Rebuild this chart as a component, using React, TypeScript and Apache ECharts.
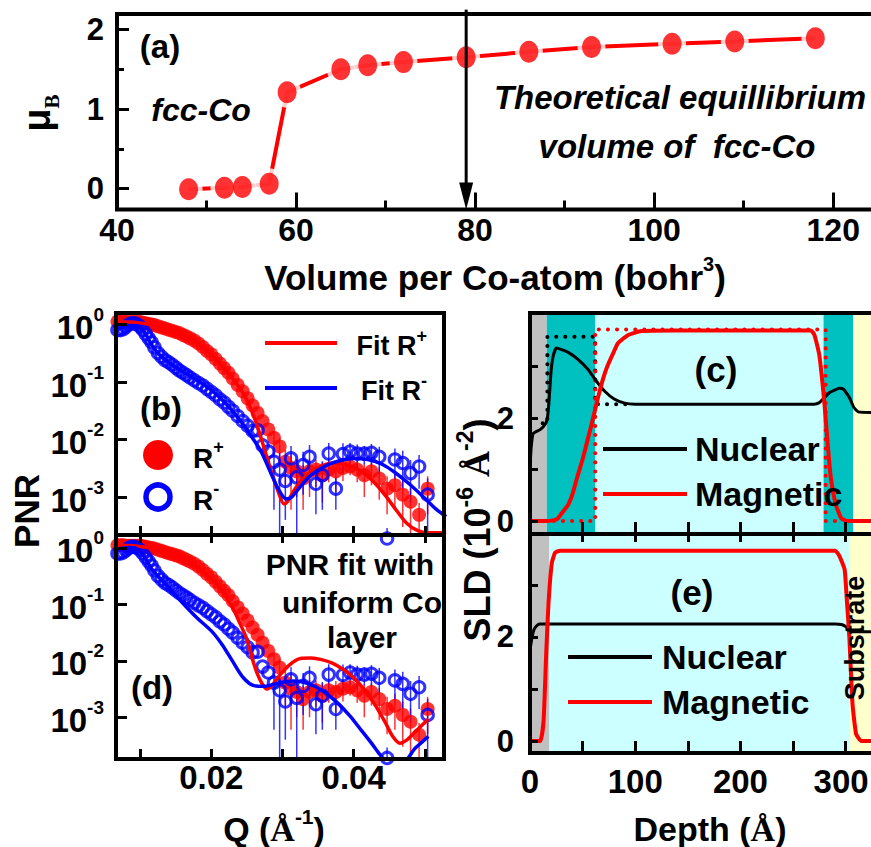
import React, { useEffect, useRef } from 'react';
import * as echarts from 'echarts';

const F = '"Liberation Sans", Arial, Helvetica, sans-serif';
const SERIF = '"Liberation Serif", "Times New Roman", serif';
const RED = '#ff0000';
const BLUE = '#0000ff';

// ---------- Panel (a): moment vs volume ----------
const volume = [48, 52, 54, 57, 59, 65, 68, 72, 79, 86, 93, 102, 109, 118];
const moment = [-0.01, 0.01, 0.02, 0.06, 1.21, 1.5, 1.55, 1.59, 1.65, 1.72, 1.78, 1.82, 1.85, 1.89];
const eqVolume = 79;
const arrowSpan = [2.25, -0.264];
const volTicks = [40, 60, 80, 100, 120];
const volMinorTicks = [50, 70, 90, 110];
const momentTicks = [0, 1, 2];
const momentMinorTicks = [0.5, 1.5];

// ---------- Panels (b),(d): PNR data (shared) ----------
const qData = [
  0.0068, 0.0072, 0.0076, 0.008, 0.0084, 0.0088, 0.0092, 0.0096, 0.01, 0.0104,
  0.0108, 0.0112, 0.0116, 0.012, 0.0125, 0.013, 0.0135, 0.014, 0.0145, 0.015,
  0.0155, 0.016, 0.0165, 0.017, 0.0176, 0.0182, 0.0188, 0.0194, 0.02, 0.0206,
  0.0212, 0.0218, 0.0224, 0.023, 0.0237, 0.0244, 0.0251, 0.0258, 0.0265, 0.0272,
  0.028, 0.0288, 0.0296, 0.0304, 0.0312, 0.032, 0.0329, 0.0338, 0.0347, 0.0356,
  0.0365, 0.0375, 0.0385, 0.0395, 0.0405, 0.0415, 0.0425, 0.0436, 0.0447, 0.0458,
  0.0469, 0.048, 0.0492, 0.0504,
];
const rPlus = [
  1.12, 1.12, 1.12, 1.1, 1.1, 1.1, 1.1, 1.1, 1.1, 1.07,
  1.05, 1.02, 1.0, 0.98, 0.93, 0.89, 0.85, 0.81, 0.78, 0.74,
  0.71, 0.66, 0.62, 0.575, 0.525, 0.468, 0.407, 0.347, 0.302, 0.251,
  0.209, 0.174, 0.145, 0.115, 0.089, 0.069, 0.052, 0.039, 0.029, 0.021,
  0.015, 0.0107, 0.0076, 0.0041, 0.0032, 0.0028, 0.0021, 0.0028, 0.003, 0.0024,
  0.003, 0.0028, 0.0032, 0.0034, 0.003, 0.0024, 0.0028, 0.0021, 0.0014, 0.0016,
  0.0011, 0.00083, 0.00049, 0.0014,
];
const rMinus = [
  0.8, 0.8, 0.83, 0.91, 1.0, 1.05, 1.05, 1.0, 0.91, 0.8,
  0.68, 0.575, 0.49, 0.4, 0.32, 0.275, 0.24, 0.22, 0.2, 0.178,
  0.159, 0.145, 0.132, 0.12, 0.107, 0.096, 0.087, 0.076, 0.067, 0.059,
  0.05, 0.044, 0.037, 0.0316, 0.0257, 0.021, 0.0174, 0.0141, 0.0145, 0.0079,
  0.0062, 0.0041, 0.003, 0.0019, 0.0047, 0.0022, 0.0036, 0.005, 0.0017, 0.0024,
  0.0057, 0.0014, 0.0056, 0.0062, 0.0057, 0.0057, 0.0059, 0.005, 0.00019, 0.0045,
  0.0039, 0.0026, 0.0034, 0.0011,
];
const errStartIndex = 41;
const errPlus = [
  0.003, 0.003, 0.0025, 0.0026, 0.0018, 0.0015, 0.0018, 0.0015, 0.0016, 0.0012,
  0.0016, 0.0013, 0.001, 0.0012, 0.0014, 0.0012, 0.0012, 0.0009, 0.001, 0.0008,
  0.0006, 0.0003, 0.0009,
];
const errMinus = [
  0.0035, 0.0029, 0.0015, 0.003, 0.0021, 0.0025, 0.003, 0.0012, 0.0018, 0.003,
  0.0008, 0.003, 0.0025, 0.0025, 0.002, 0.0025, 0.0025, 0.0001, 0.0025, 0.0025,
  0.0018, 0.002, 0.001,
];

// fits for (b)
const fitPlusBQ = [0.0066, 0.009, 0.011, 0.013, 0.015, 0.017, 0.019, 0.021, 0.023, 0.0245, 0.0255, 0.0265, 0.0275, 0.0285, 0.0295, 0.0302, 0.0307, 0.0315, 0.0325, 0.034, 0.0355, 0.037, 0.0385, 0.04, 0.0415, 0.043, 0.0445, 0.046, 0.0475, 0.049, 0.0505, 0.052, 0.053];
const fitPlusB = [1.12, 1.1, 1.02, 0.89, 0.74, 0.575, 0.389, 0.224, 0.115, 0.063, 0.0355, 0.0166, 0.0066, 0.0026, 0.00115, 0.00076, 0.00083, 0.00123, 0.00186, 0.00275, 0.00347, 0.00389, 0.00372, 0.00331, 0.00257, 0.00174, 0.00105, 0.00059, 0.000347, 0.00026, 0.00024, 0.00024, 0.00024];
const fitMinusBQ = [0.0066, 0.0085, 0.0095, 0.0105, 0.0115, 0.0125, 0.014, 0.016, 0.018, 0.02, 0.022, 0.024, 0.0255, 0.027, 0.0285, 0.0295, 0.0305, 0.0312, 0.0325, 0.034, 0.036, 0.038, 0.04, 0.042, 0.044, 0.046, 0.048, 0.05, 0.0515, 0.053];
const fitMinusB = [0.79, 0.955, 0.955, 0.76, 0.468, 0.316, 0.219, 0.151, 0.107, 0.0724, 0.0427, 0.0219, 0.012, 0.00617, 0.0024, 0.00132, 0.00093, 0.00098, 0.00151, 0.0024, 0.00347, 0.00427, 0.00468, 0.00447, 0.00372, 0.00257, 0.00162, 0.00095, 0.00063, 0.000457];

// fits for (d): uniform Co layer
const fitPlusDQ = [0.0066, 0.009, 0.011, 0.013, 0.015, 0.017, 0.019, 0.021, 0.023, 0.024, 0.025, 0.0258, 0.0265, 0.0272, 0.0278, 0.0285, 0.0295, 0.031, 0.0325, 0.034, 0.0355, 0.037, 0.0385, 0.04, 0.0415, 0.043, 0.0445, 0.0455, 0.0465, 0.0475, 0.0485, 0.0497, 0.0505];
const fitPlusD = [1.12, 1.1, 1.02, 0.89, 0.724, 0.55, 0.363, 0.214, 0.087, 0.0468, 0.024, 0.0105, 0.00575, 0.0038, 0.00316, 0.00363, 0.00537, 0.00851, 0.011, 0.0112, 0.0105, 0.0091, 0.00708, 0.00501, 0.00309, 0.00166, 0.00079, 0.000457, 0.000347, 0.000398, 0.000525, 0.000741, 0.000933];
const fitMinusDQ = [0.0066, 0.0085, 0.0095, 0.0105, 0.0115, 0.0125, 0.014, 0.016, 0.018, 0.02, 0.0215, 0.023, 0.0245, 0.026, 0.0275, 0.0295, 0.0315, 0.0335, 0.0355, 0.0375, 0.0395, 0.041, 0.0425, 0.0435, 0.0445, 0.0455, 0.0465, 0.0475, 0.0485, 0.0497, 0.0505];
const fitMinusD = [0.955, 1.02, 0.977, 0.724, 0.447, 0.316, 0.2, 0.105, 0.0575, 0.0339, 0.0195, 0.00977, 0.00501, 0.00363, 0.00355, 0.00407, 0.00437, 0.00398, 0.00302, 0.00191, 0.00105, 0.000603, 0.000347, 0.000234, 0.000166, 0.000135, 0.000145, 0.000178, 0.000269, 0.000372, 0.000457];

const qTicks = [0.01, 0.02, 0.03, 0.04, 0.05];
const qLabels = [0.02, 0.04];
const logTicks = [-3, -2, -1, 0];

// ---------- Panels (c),(e): SLD depth profiles ----------
const nucCDepth = [0, 1, 3, 10, 15, 16.5, 18, 20, 22, 25, 30, 36, 45, 55, 63, 71, 80, 90, 100, 120, 200, 270, 275, 280, 285, 290, 294, 298, 302, 304, 308, 312, 326];
const nucC = [1.0, 1.4, 1.7, 1.78, 1.9, 2.0, 2.3, 2.9, 3.2, 3.36, 3.33, 3.28, 3.15, 2.95, 2.72, 2.52, 2.37, 2.29, 2.27, 2.27, 2.27, 2.27, 2.3, 2.4, 2.5, 2.55, 2.58, 2.56, 2.45, 2.38, 2.2, 2.12, 2.11];
const nucCModelDepth = [12, 16.5, 16.5, 62, 62, 92];
const nucCModel = [1.9, 1.9, 3.58, 3.58, 2.27, 2.27];
const magCDepth = [0, 15, 23, 26.4, 30, 36, 40, 45.4, 50, 55, 60, 64.4, 70, 74, 80, 83.5, 93, 105.7, 137, 267, 270.4, 275, 280, 283, 286, 291, 296, 302, 326];
const magC = [0, 0, 0.02, 0.05, 0.15, 0.31, 0.5, 0.89, 1.2, 1.6, 2.0, 2.38, 2.8, 3.03, 3.3, 3.45, 3.61, 3.69, 3.7, 3.7, 3.61, 3.22, 2.25, 1.48, 0.83, 0.3, 0.05, 0, 0];
const magCModelDepth = [14, 62, 62, 281, 281, 298];
const magCModel = [0, 0, 3.72, 3.72, 0, 0];

const nucEDepth = [0, 2, 4, 7, 10, 290, 296, 300, 303, 306, 326];
const nucE = [1.75, 2.0, 2.15, 2.23, 2.25, 2.25, 2.24, 2.2, 2.14, 2.1, 2.1];
const magEDepth = [0, 9.7, 12.9, 15.4, 17.6, 20.8, 23.9, 28.6, 290, 294, 299, 301, 303.5, 306.5, 310, 315, 326];
const magE = [0, 0, 0.39, 1.68, 2.65, 3.43, 3.62, 3.66, 3.66, 3.56, 3.3, 2.75, 2.0, 0.72, 0.13, 0, 0];

const cBandEdges = [0, 16, 62, 279, 307, 326];
const eBandEdges = [0, 18.5, 304, 326];
const GRAY = '#c0c0c0';
const TEAL = '#00c0c0';
const CYAN = '#ccffff';
const YELLOW = '#ffffcc';
const cBandColors = [GRAY, TEAL, CYAN, TEAL, YELLOW];
const eBandColors = [GRAY, CYAN, YELLOW];
const depthTicks = [50, 100, 150, 200, 250, 300];
const depthLabels = [0, 100, 200, 300];
const sldTicks = [0, 1, 2, 3];
const sldLabels = [0, 2];

function buildOption(): any {
  const P = (xs: number[], ys: number[]) => xs.map((x, i) => [x, ys[i]]);
  const L = (xs: number[], ys: number[]) => xs.map((x, i) => [x, Math.log10(ys[i])]);

  const gridBase = { show: true, borderColor: '#000', borderWidth: 4, backgroundColor: 'transparent', z: 10, containLabel: false, outerBoundsMode: 'none' };
  const grid = [
    { ...gridBase, left: 117, top: 14, width: 761, height: 195.5 },
    { ...gridBase, left: 116, top: 313, width: 328, height: 222 },
    { ...gridBase, left: 116, top: 535, width: 328, height: 224 },
    { ...gridBase, left: 530, top: 313, width: 343, height: 221 },
    { ...gridBase, left: 530, top: 534, width: 343, height: 219 },
  ];

  const lab = (values: number[], size: number, margin: number, extra: any = {}) => ({
    show: true, customValues: values, fontFamily: F, fontWeight: 'bold', fontSize: size, color: '#000', margin, ...extra,
  });
  const ax = (gridIndex: number, min: number, max: number, position: string, ticks: number[], tickLen: number, label: any = null) => ({
    type: 'value', gridIndex, min, max, position, z: 11,
    axisLine: { show: false, onZero: false },
    splitLine: { show: false },
    axisTick: { show: true, inside: true, length: tickLen, customValues: ticks, lineStyle: { color: '#000', width: 3 } },
    axisLabel: label || { show: false },
  });

  const supRich = (size: number, sup: number) => ({
    b: { fontSize: size, fontWeight: 'bold', fontFamily: F, color: '#000', lineHeight: size + 6, verticalAlign: 'bottom' },
    s: { fontSize: sup, fontWeight: 'bold', fontFamily: F, color: '#000', lineHeight: sup, verticalAlign: 'top' },
  });
  const logFmt = (v: number) => `{b|10}{s|${Math.round(v)}}`;
  const depthRich = {
    n: { fontSize: 33, fontWeight: 'bold', fontFamily: F, color: '#000' },
    r: { fontSize: 33, fontWeight: 'bold', fontFamily: F, color: '#000', padding: [0, 9, 0, 0] },
  };
  const depthFmt = (v: number) => (v >= 300 ? `{r|${v}}` : `{n|${v}}`);

  const xAxis = [
    ax(0, 40, 125, 'bottom', volTicks, 17, lab(volTicks, 32, 4)),
    ax(0, 40, 125, 'bottom', volMinorTicks, 9),
    ax(1, 0.0066, 0.0527, 'bottom', qTicks, 9),
    ax(2, 0.0066, 0.0527, 'bottom', qTicks, 10, lab(qLabels, 33, 2, { formatter: (v: number) => v.toFixed(2) })),
    ax(2, 0.0066, 0.0527, 'top', qTicks, 8),
    ax(3, 0, 326, 'bottom', depthTicks, 12),
    ax(4, 0, 326, 'bottom', depthTicks, 12, lab(depthLabels, 33, 12, { formatter: depthFmt, rich: depthRich })),
    ax(4, 0, 326, 'top', depthTicks, 8),
  ];
  const yAxis = [
    ax(0, -0.264, 2.195, 'left', momentTicks, 12, lab(momentTicks, 31, 13)),
    ax(0, -0.264, 2.195, 'left', momentMinorTicks, 7),
    ax(1, -3.66, 0.2, 'left', logTicks, 11, lab(logTicks, 33, 12, { formatter: logFmt, rich: supRich(33, 19) })),
    ax(2, -3.74, 0.23, 'left', logTicks, 11, lab(logTicks, 33, 12, { formatter: logFmt, rich: supRich(33, 19) })),
    ax(3, -0.25, 4.04, 'left', sldTicks, 8, lab(sldLabels, 31, 16)),
    ax(4, -0.23, 3.98, 'left', sldTicks, 8, lab(sldLabels, 31, 16)),
  ];

  const errSeries = (xi: number, yi: number, vals: number[], errs: number[], color: string) => ({
    type: 'custom', xAxisIndex: xi, yAxisIndex: yi, z: 2, silent: true,
    data: errs.map((s, k) => {
      const i = errStartIndex + k;
      const v = vals[i];
      return [qData[i], Math.log10(Math.max(v - s, 1e-6)), Math.log10(v + s)];
    }),
    encode: { x: 0, y: [1, 2] },
    renderItem: (params: any, api: any) => {
      const p1 = api.coord([api.value(0), api.value(2)]);
      const p2 = api.coord([api.value(0), api.value(1)]);
      const cs = params.coordSys;
      const clamp = (y: number) => Math.max(cs.y, Math.min(cs.y + cs.height, y));
      return { type: 'line', shape: { x1: p1[0], y1: clamp(p1[1]), x2: p1[0], y2: clamp(p2[1]) }, style: { stroke: color, lineWidth: 1.5, opacity: 0.8 } };
    },
  });

  const pnrSeries = (xi: number, yi: number, fpQ: number[], fp: number[], fmQ: number[], fm: number[]) => [
    errSeries(xi, yi, rPlus, errPlus, RED),
    errSeries(xi, yi, rMinus, errMinus, BLUE),
    { type: 'scatter', xAxisIndex: xi, yAxisIndex: yi, z: 3, symbol: 'circle', symbolSize: 14, itemStyle: { color: RED }, data: L(qData, rPlus) },
    { type: 'scatter', xAxisIndex: xi, yAxisIndex: yi, z: 4, clip: false, symbol: 'circle', symbolSize: 11.5, itemStyle: { color: 'rgba(255,255,255,0)', borderColor: BLUE, borderWidth: 3 }, data: L(qData, rMinus) },
    { type: 'line', xAxisIndex: xi, yAxisIndex: yi, z: 5, symbol: 'none', smooth: 0.3, lineStyle: { color: RED, width: 3.5 }, data: L(fpQ, fp) },
    { type: 'line', xAxisIndex: xi, yAxisIndex: yi, z: 6, symbol: 'none', smooth: 0.3, lineStyle: { color: BLUE, width: 3.5 }, data: L(fmQ, fm) },
  ];

  const bandSeries = (xi: number, yi: number, edges: number[], colors: string[]) => ({
    type: 'custom', xAxisIndex: xi, yAxisIndex: yi, z: 1, silent: true,
    data: edges.slice(0, -1).map((e, i) => [e, edges[i + 1], i]),
    encode: { x: [0, 1], y: 2 },
    renderItem: (params: any, api: any) => {
      const x0 = api.coord([api.value(0), 0])[0];
      const x1 = api.coord([api.value(1), 0])[0];
      const cs = params.coordSys;
      return { type: 'rect', shape: { x: x0, y: cs.y, width: x1 - x0, height: cs.height }, style: { fill: colors[api.value(2)] } };
    },
  });

  const lineS = (xi: number, yi: number, data: number[][], color: string, width: number, z: number, dotted = false) => ({
    type: 'line', xAxisIndex: xi, yAxisIndex: yi, z, symbol: 'none', smooth: dotted ? false : 0.15,
    lineStyle: { color, width, type: dotted ? [0.1, 9] : 'solid', cap: dotted ? 'round' : 'butt' },
    data,
  });

  const series: any[] = [
    // (a)
    { type: 'line', xAxisIndex: 0, yAxisIndex: 0, z: 3, symbol: 'none', lineStyle: { color: RED, width: 4 }, data: P(volume, moment) },
    { type: 'scatter', xAxisIndex: 0, yAxisIndex: 0, z: 4, symbol: 'circle', symbolSize: [28, 31], itemStyle: { color: '#fff' }, data: P(volume, moment) },
    { type: 'scatter', xAxisIndex: 0, yAxisIndex: 0, z: 5, symbol: 'circle', symbolSize: [19, 22], itemStyle: { color: RED }, data: P(volume, moment) },
    {
      type: 'custom', xAxisIndex: 0, yAxisIndex: 0, z: 6, silent: true,
      data: [[eqVolume, arrowSpan[0], arrowSpan[1]]],
      encode: { x: 0, y: [1, 2] },
      renderItem: (params: any, api: any) => {
        const top = api.coord([api.value(0), api.value(1)]);
        const bot = api.coord([api.value(0), api.value(2)]);
        const x = top[0];
        return {
          type: 'group', children: [
            { type: 'line', shape: { x1: x, y1: top[1], x2: x, y2: bot[1] - 20 }, style: { stroke: '#000', lineWidth: 3 } },
            { type: 'polygon', shape: { points: [[x - 7, bot[1] - 27], [x + 7, bot[1] - 27], [x, bot[1]]] }, style: { fill: '#000' } },
          ],
        };
      },
    },
    // (b)
    ...pnrSeries(2, 2, fitPlusBQ, fitPlusB, fitMinusBQ, fitMinusB),
    // (d)
    ...pnrSeries(3, 3, fitPlusDQ, fitPlusD, fitMinusDQ, fitMinusD),
    // (c)
    bandSeries(5, 4, cBandEdges, cBandColors),
    lineS(5, 4, P(nucCModelDepth, nucCModel), '#000', 4, 3, true),
    lineS(5, 4, P(magCModelDepth, magCModel), RED, 4, 4, true),
    lineS(5, 4, P(nucCDepth, nucC), '#000', 3, 5),
    lineS(5, 4, P(magCDepth, magC), RED, 4, 6),
    // (e)
    bandSeries(6, 5, eBandEdges, eBandColors),
    lineS(6, 5, P(nucEDepth, nucE), '#000', 3, 5),
    lineS(6, 5, P(magEDepth, magE), RED, 4, 6),
  ];

  const rich = (size: number, sup: number) => ({
    m: { fontSize: size, fontWeight: 'bold', fontFamily: F, fill: '#000', lineHeight: size + 6, verticalAlign: 'bottom' },
    a: { fontSize: size, fontWeight: 'bold', fontFamily: SERIF, fill: '#000', lineHeight: size + 6, verticalAlign: 'bottom' },
    s: { fontSize: sup, fontWeight: 'bold', fontFamily: F, fill: '#000', lineHeight: sup, verticalAlign: 'top' },
  });
  const txt = (x: number, y: number, text: string, size: number, o: any = {}) => ({
    type: 'text', x, y, z: 100, rotation: o.rotation || 0, silent: true,
    style: {
      text, fill: o.color || '#000', fontFamily: F, fontWeight: 'bold', fontSize: size,
      fontStyle: o.italic ? 'italic' : 'normal',
      align: o.align || 'center', verticalAlign: 'middle',
      textAlign: o.align || 'center', textVerticalAlign: 'middle',
      rich: o.rich,
    },
  });
  const seg = (x1: number, y1: number, x2: number, y2: number, color: string) => ({
    type: 'line', z: 100, silent: true, shape: { x1, y1, x2, y2 }, style: { stroke: color, lineWidth: 4 },
  });

  const graphic = [
    // (a)
    txt(160, 46, '(a)', 33),
    txt(201, 110, 'fcc-Co', 32, { italic: true }),
    txt(680, 97, 'Theoretical equillibrium', 33, { italic: true }),
    txt(677, 146, 'volume of  fcc-Co', 33, { italic: true }),
    txt(495, 274, '{m|Volume per Co-atom (bohr}{s|3}{m|)}', 35, { rich: rich(35, 20) }),
    txt(40, 113, '{m|μ}{u|B}', 34, {
      rotation: Math.PI / 2,
      rich: {
        m: { fontSize: 38, fontWeight: 'bold', fontFamily: F, fill: '#000', lineHeight: 44, verticalAlign: 'top' },
        u: { fontSize: 21, fontWeight: 'bold', fontFamily: SERIF, fill: '#000', lineHeight: 21, verticalAlign: 'bottom' },
      },
    }),
    // (b)
    seg(265, 343, 337, 343, RED),
    txt(427, 343, '{m|Fit R}{s|+}', 27, { align: 'right', rich: rich(27, 18) }),
    seg(265, 388, 337, 388, BLUE),
    txt(427, 388, '{m|Fit R}{s|-}', 27, { align: 'right', rich: rich(27, 18) }),
    txt(161, 408, '(b)', 33),
    { type: 'circle', z: 100, silent: true, shape: { cx: 158, cy: 455, r: 15 }, style: { fill: RED } },
    { type: 'circle', z: 100, silent: true, shape: { cx: 158, cy: 497, r: 12 }, style: { fill: 'none', stroke: BLUE, lineWidth: 5.5 } },
    txt(193, 455, '{m|R}{s|+}', 28, { align: 'left', rich: rich(28, 18) }),
    txt(193, 497, '{m|R}{s|-}', 28, { align: 'left', rich: rich(28, 18) }),
    // (d)
    txt(350, 564, 'PNR fit with', 30),
    txt(362, 602, 'uniform Co', 30),
    txt(362, 637, 'layer', 30),
    txt(152, 687, '(d)', 33),
    txt(274, 826, '{m|Q (}{a|Å}{s|-1}{m|)}', 34, { rich: rich(34, 21) }),
    txt(26, 511, 'PNR', 35, { rotation: Math.PI / 2 }),
    // (c)
    txt(716, 369, '(c)', 35),
    seg(603, 449, 687, 449, '#000'),
    txt(695, 449, 'Nuclear', 34, { align: 'left' }),
    seg(603, 494, 687, 494, RED),
    txt(695, 494, 'Magnetic', 34, { align: 'left' }),
    // (e)
    txt(692, 592, '(e)', 35),
    seg(568, 657, 652, 657, '#000'),
    txt(662, 657, 'Nuclear', 34, { align: 'left' }),
    seg(568, 702, 652, 702, RED),
    txt(662, 702, 'Magnetic', 34, { align: 'left' }),
    txt(855, 638, 'Substrate', 27, { rotation: Math.PI / 2 }),
    txt(710, 826, '{m|Depth (}{a|Å}{m|)}', 34, { rich: rich(34, 21) }),
    txt(474, 530, '{m|SLD (10}{s|-6}{m| }{a|Å}{s|-2}{m|)}', 36, { rotation: Math.PI / 2, rich: rich(36, 23) }),
  ];

  return {
    animation: false,
    backgroundColor: '#fff',
    textStyle: { fontFamily: F },
    grid, xAxis, yAxis, series, graphic,
  };
}

export default function App() {
  const ref = useRef<HTMLDivElement>(null);
  useEffect(() => {
    if (!ref.current) return;
    const chart = echarts.init(ref.current, null, { renderer: 'svg' });
    chart.setOption(buildOption());
    return () => chart.dispose();
  }, []);
  return <div ref={ref} style={{ position: 'absolute', left: 0, top: 0, width: 871, height: 847 }} />;
}
